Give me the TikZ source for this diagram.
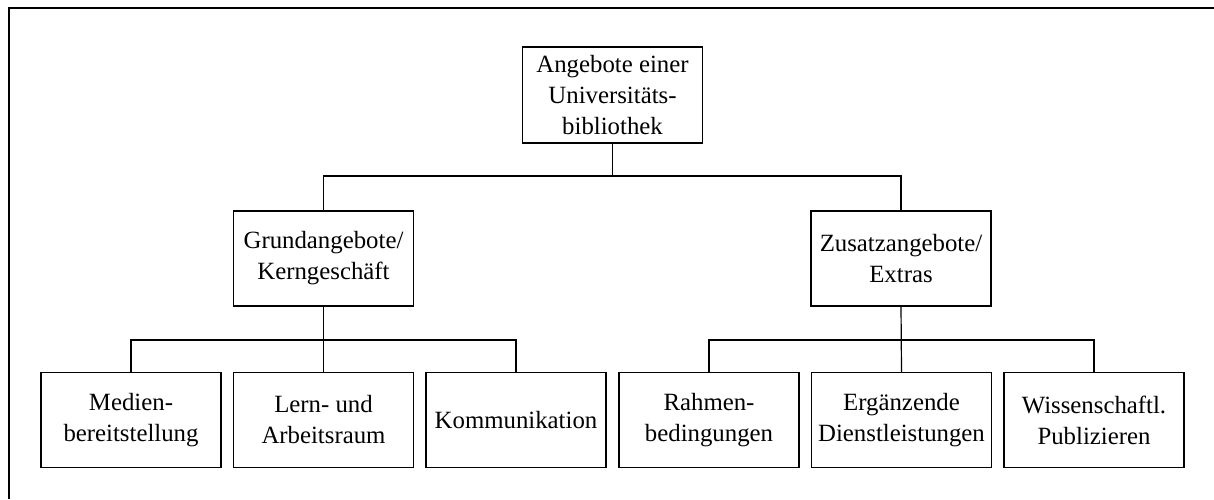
\documentclass[tikz,border=0pt]{standalone}
\usepackage{fontspec}
\setmainfont{Liberation Serif}
\usetikzlibrary{calc}

\begin{document}
\begin{tikzpicture}[
  x=0.5pt, y=-0.5pt,
  line join=miter,
  % Kasten: einheitliche Breite, Text zentriert
  box/.style={draw=black, line width=0.6pt, align=center, inner sep=0pt,
              minimum width=90pt, minimum height=47.5pt,
              font=\fontsize{12.4pt}{15.5pt}\selectfont},
  link/.style={draw=black, line width=0.6pt},
  frame/.style={draw=black, line width=1pt},
]
\useasboundingbox (0,0) rectangle (1214,499);
\def\BusA{176}   % Verteilerlinie unter der Wurzel
\def\BusB{340}   % Verteilerlinie unter der zweiten Ebene

% --- Rahmen (nur links und oben sichtbar)
\draw[frame] (9,499) -- (9,7.5) -- (1214,7.5);

% --- Wurzel
\node[box, minimum height=48pt] (root) at (612.5,95)
  {Angebote einer\\Universitäts-\\bibliothek};

% --- Zweite Ebene
\node[box] (grund) at (323.5,258.5) {Grundangebote/\\Kerngeschäft};
\node[box] (zusatz) at (901,258.5) {Zusatzangebote/\\Extras};

% --- Dritte Ebene
\node[box] (medien) at (131,420)   {Medien-\\bereitstellung};
\node[box] (lern)   at (323.5,420) {Lern- und\\Arbeitsraum};
\node[box] (komm)   at (516,420)   {Kommunikation};
\node[box] (rahmen) at (709,420)   {Rahmen-\\bedingungen};
\node[box] (dienst) at (901.5,420) {Ergänzende\\Dienstleistungen};
\node[box] (publ)   at (1094,420)  {Wissenschaftl.\\Publizieren};

\coordinate (busA) at (0,\BusA);
\coordinate (busB) at (0,\BusB);

% --- Verbindungen Wurzel -> zweite Ebene
\draw[link] (root.south) -- (root.south |- busA);
\draw[link] (grund.north) -- (grund.north |- busA) -- (zusatz.north |- busA) -- (zusatz.north);

% --- Verbindungen zweite -> dritte Ebene
\foreach \p/\l/\m/\r in {grund/medien/lern/komm, zusatz/rahmen/dienst/publ} {
  \draw[link] (\p.south) -- (\m.north);
  \draw[link] (\l.north) -- (\l.north |- busB) -- (\r.north |- busB) -- (\r.north);
}
\end{tikzpicture}
\end{document}
